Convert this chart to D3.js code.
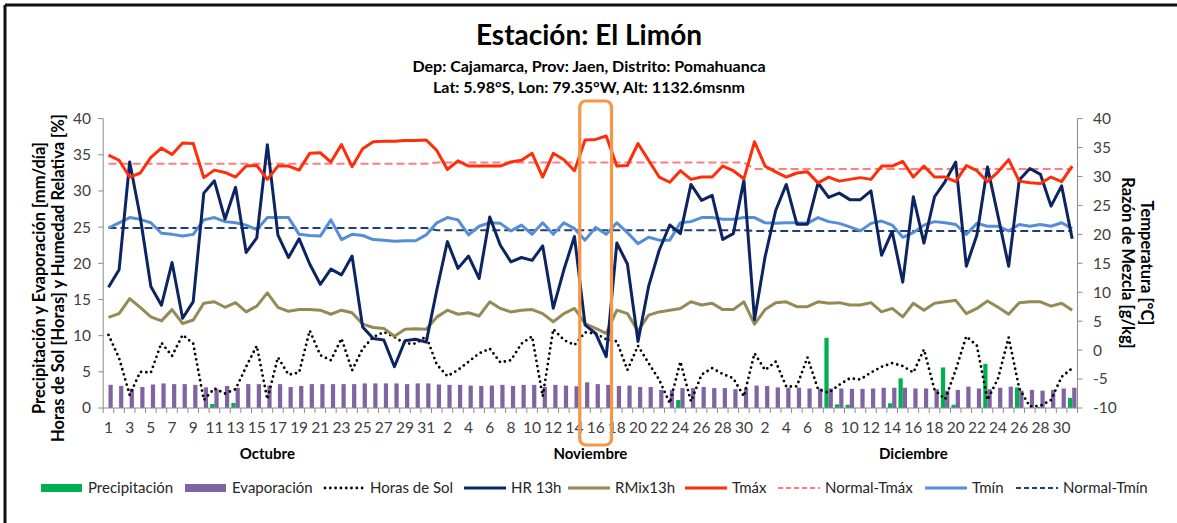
<!DOCTYPE html>
<html>
<head>
<meta charset="utf-8">
<script src="https://cdn.jsdelivr.net/npm/d3@7"></script>
<style>
  html, body { margin: 0; padding: 0; background: #fff; }
  svg { display: block; font-family: Lato, "Open Sans", sans-serif; }
</style>
</head>
<body>
<svg id="chart" width="1177" height="523"></svg>
<script>
// ---- Datos diarios: octubre a diciembre ----
const meses = ["Octubre", "Noviembre", "Diciembre"];
const diasPorMes = [31, 30, 31];
const dias = [
  1,2,3,4,5,6,7,8,9,10,11,12,13,14,15,16,17,18,19,20,21,22,23,24,25,26,27,28,29,30,31,
  1,2,3,4,5,6,7,8,9,10,11,12,13,14,15,16,17,18,19,20,21,22,23,24,25,26,27,28,29,30,
  1,2,3,4,5,6,7,8,9,10,11,12,13,14,15,16,17,18,19,20,21,22,23,24,25,26,27,28,29,30,31
];

// Precipitación [mm/día]
const precipitacion = [
  0,0,0,0,0,0,0,0,0,0,0.55,0,0.7,0,0,0,0,0,0,0,0,0,0,0,0,0,0,0,0,0,0,
  0,0,0,0,0,0,0,0,0,0,0,0,0,0,0,0,0,0,0,0,0,0,0,1.1,0,0,0,0,0,0,
  0,0,0,0,0,0,0,9.7,0.5,0.45,0,0,0,0.65,4.1,0,0,0,5.6,0.45,0,0,6.1,0,0,2.85,0,0.15,0,0,1.4
];
// Evaporación [mm/día]
const evaporacion = [
  3.2,3.05,2.65,2.9,3.25,3.4,3.3,3.3,3.2,2.85,2.6,3.05,2.8,3.3,3.3,3.1,3.3,2.9,3.05,3.3,3.3,3.3,3.3,3.3,3.4,3.4,3.4,3.4,3.3,3.4,3.4,
  3.25,3.2,3.2,3.1,3.05,3.1,3.2,3.05,3.2,3.2,2.9,3.2,3.1,3.0,3.55,3.3,3.2,3.05,3.1,2.9,2.9,2.5,2.5,2.75,2.75,2.9,2.75,2.75,2.6,2.75,
  3.1,3.05,2.85,2.8,2.8,2.7,2.7,2.7,2.7,2.65,2.65,2.7,2.8,2.8,2.8,2.7,2.7,2.6,2.4,2.5,2.95,2.7,2.6,2.8,2.95,2.4,2.5,2.4,2.5,2.7,2.8
];
// Horas de sol [horas]
const horasSol = [
  10.1,6.9,1.8,5.0,4.9,9.0,7.2,10.1,8.9,1.1,2.7,2.0,2.6,5.7,8.6,1.2,7.0,4.6,4.9,10.7,7.3,6.6,9.6,5.2,8.2,9.8,10.5,9.8,8.9,8.9,9.9,
  6.0,4.4,5.25,6.4,7.55,8.2,6.3,6.6,8.9,9.9,1.6,10.9,9.4,8.7,10.45,10.3,9.5,9.2,5.25,8.6,6.2,3.9,0.65,6.4,0.9,4.6,5.5,4.7,4.1,1.6,
  7.55,5.25,6.4,2.95,3.0,7.0,2.6,2.1,3.2,4.1,3.95,4.9,5.7,6.2,5.8,4.9,8.1,2.5,1.2,5.25,9.9,8.6,1.1,4.1,9.75,2.7,0.2,0.3,1.1,4.3,5.5
];
// Humedad relativa a las 13h [%]
const hr13 = [
  16.7,19.1,34.0,26.4,16.8,14.2,20.1,12.4,14.7,29.7,31.4,26.1,30.5,21.5,23.5,36.4,23.9,20.8,23.4,19.9,17.1,19.2,18.4,21.0,11.2,9.6,9.4,5.7,9.3,9.5,9.1,
  16.3,23.0,19.3,21.0,17.9,26.4,22.5,20.2,20.8,20.4,22.4,13.8,19.1,23.7,11.5,10.3,7.1,22.8,19.9,9.2,16.8,21.8,25.3,24.1,30.9,28.7,29.4,23.3,24.1,31.5,
  12.2,20.9,27.3,30.9,25.4,25.4,31.1,29.1,29.7,28.8,28.8,30.0,21.1,24.4,17.4,29.2,22.8,29.2,31.3,34.0,19.6,23.9,33.3,26.5,19.6,31.5,33.1,32.3,27.9,30.7,23.4
];
// Razón de mezcla a las 13h [g/kg]
const rmix13 = [
  5.65,6.3,8.9,7.4,5.75,5.05,7.0,4.6,5.2,8.1,8.35,7.4,8.2,6.6,7.6,9.9,7.4,6.7,7.0,7.0,6.9,6.2,6.9,6.45,4.5,3.9,3.75,2.4,3.6,3.7,3.6,
  5.7,6.9,6.2,6.45,5.9,8.35,7.2,6.6,6.9,7.0,6.3,4.9,6.3,7.2,4.6,3.75,2.9,6.9,6.3,3.3,6.05,6.6,6.9,7.2,8.35,7.8,8.1,7.0,7.0,8.35,
  4.5,7.0,8.2,8.35,7.5,7.5,8.35,8.1,8.2,7.8,7.8,8.2,6.6,7.2,5.75,8.1,6.9,8.1,8.35,8.6,6.3,7.2,8.5,7.4,6.2,8.2,8.35,8.35,7.6,8.1,6.9
];
// Temperatura máxima [°C]
const tmax = [
  33.7,32.8,29.9,30.6,33.3,34.9,33.8,35.8,35.7,29.8,31.1,30.7,29.9,31.8,31.9,29.5,31.8,31.8,31.1,34.0,34.1,32.5,35.5,31.7,34.8,36.0,36.1,36.1,36.2,36.2,36.3,
  34.5,31.2,32.7,31.8,31.8,31.8,31.8,32.5,32.8,34.0,29.9,34.0,32.9,31.0,36.3,36.4,37.0,31.8,31.9,35.7,32.8,29.9,29.0,31.0,29.5,29.9,29.9,31.8,31.0,29.6,
  36.0,31.8,30.8,29.9,30.6,30.8,28.9,29.9,29.2,29.5,29.8,29.5,31.8,31.8,32.6,29.9,31.8,29.9,29.9,29.1,31.9,31.0,29.1,30.8,32.9,29.2,28.9,28.8,29.9,29.1,31.8
];
// Temperatura mínima [°C]
const tmin = [
  21.1,22.0,22.9,22.6,22.0,20.2,20.0,19.7,20.0,22.5,22.9,22.2,22.0,21.6,20.8,22.9,22.9,22.9,20.0,19.8,19.7,22.5,19.1,20.0,19.8,19.1,19.0,18.8,18.9,18.9,19.9,
  22.0,22.9,22.5,19.9,21.4,22.0,21.9,20.6,21.6,20.0,22.0,20.0,22.0,21.0,19.0,21.2,20.0,22.0,20.3,18.4,19.5,19.0,19.0,22.0,22.2,22.9,22.9,22.6,22.6,22.9,
  22.9,22.0,21.9,22.0,22.0,21.9,22.9,22.2,21.9,21.3,20.6,21.9,22.3,21.6,19.5,20.3,21.6,22.2,22.0,21.7,20.0,21.9,21.4,21.4,20.6,21.7,21.4,21.7,21.4,22.0,21.0
];
// Normales mensuales [°C]
const normalTmax = [32.2, 32.4, 31.3];
const normalTmin = [21.1, 20.7, 20.6];

// Ejes
const ticksIzq = [0, 5, 10, 15, 20, 25, 30, 35, 40];
const ticksDer = [-10, -5, 0, 5, 10, 15, 20, 25, 30, 35, 40];

// Días resaltados (índices 15–17 de noviembre)
const resaltado = [45, 47];

// ---- Geometría ----
const svg = d3.select("#chart");
const W = 1177, H = 523;
const plot = { left: 103.2, right: 1077.5, top: 118.6, bottom: 408 };

const n = dias.length;
const idx = d3.range(n);
const mesDeDia = [];
diasPorMes.forEach((c, m) => { for (let k = 0; k < c; k++) mesDeDia.push(m); });

const x = d3.scaleBand().domain(idx).range([plot.left, plot.right]).paddingInner(0).paddingOuter(0);
const bw = x.bandwidth();
const cx = i => x(i) + bw / 2;
const yL = d3.scaleLinear().domain([0, 40]).range([plot.bottom, plot.top]);
const yR = d3.scaleLinear().domain([-10, 40]).range([plot.bottom, plot.top]);

const axisColor = "#8c8c8c";
const tickText = "#404040";

// Marco exterior
svg.append("rect").attr("x", 0).attr("y", 0).attr("width", W).attr("height", H).attr("fill", "#fff");
svg.append("line").attr("x1", 5).attr("x2", W).attr("y1", 5).attr("y2", 5)
  .attr("stroke", "#111").attr("stroke-width", 3);
svg.append("line").attr("x1", 5).attr("x2", 5).attr("y1", 5).attr("y2", H)
  .attr("stroke", "#111").attr("stroke-width", 3);

// Títulos
svg.append("text").attr("x", 589).attr("y", 45).attr("text-anchor", "middle")
  .attr("font-size", 28).attr("font-weight", 700).attr("fill", "#000").text("Estación: El Limón");
svg.append("text").attr("x", 589).attr("y", 72).attr("text-anchor", "middle")
  .attr("font-size", 16).attr("font-weight", 700).attr("fill", "#000")
  .text("Dep: Cajamarca, Prov: Jaen, Distrito: Pomahuanca");
svg.append("text").attr("x", 589).attr("y", 93).attr("text-anchor", "middle")
  .attr("font-size", 16).attr("font-weight", 700).attr("fill", "#000")
  .text("Lat: 5.98°S, Lon: 79.35°W, Alt: 1132.6msnm");

// ---- Barras ----
const barW = bw * 0.4;
svg.append("g").selectAll("rect").data(idx).join("rect")
  .attr("x", i => cx(i) - barW)
  .attr("width", barW)
  .attr("y", i => yL(precipitacion[i]))
  .attr("height", i => yL(0) - yL(precipitacion[i]))
  .attr("fill", "#00b050");
svg.append("g").selectAll("rect").data(idx).join("rect")
  .attr("x", i => cx(i))
  .attr("width", barW)
  .attr("y", i => yL(evaporacion[i]))
  .attr("height", i => yL(0) - yL(evaporacion[i]))
  .attr("fill", "#8064a2");

// ---- Líneas ----
function serie(vals, scale, color, width, dash, cap) {
  const line = d3.line().x(i => cx(i)).y(i => scale(vals[i]));
  svg.append("path").datum(idx).attr("d", line)
    .attr("fill", "none").attr("stroke", color).attr("stroke-width", width)
    .attr("stroke-linejoin", "round")
    .attr("stroke-linecap", cap || "butt")
    .attr("stroke-dasharray", dash || null);
}
const nTmax = idx.map(i => normalTmax[mesDeDia[i]]);
const nTmin = idx.map(i => normalTmin[mesDeDia[i]]);

serie(horasSol, yL, "#000", 2.8, "0,5.3", "round");
serie(rmix13, yR, "#948a54", 3);
serie(nTmax, yR, "#ff7c80", 2, "8,4");
serie(nTmin, yR, "#1f3d7a", 2, "8,4");
serie(tmin, yR, "#558ed5", 3);
serie(hr13, yL, "#0c2461", 3);
serie(tmax, yR, "#ff2d0a", 3);

// ---- Ejes ----
const gx = svg.append("g");
gx.append("line").attr("x1", plot.left).attr("x2", plot.right)
  .attr("y1", plot.bottom).attr("y2", plot.bottom).attr("stroke", axisColor);
gx.selectAll("line.tk").data(d3.range(n + 1)).join("line").attr("class", "tk")
  .attr("x1", i => plot.left + i * bw).attr("x2", i => plot.left + i * bw)
  .attr("y1", plot.bottom).attr("y2", plot.bottom + 5).attr("stroke", axisColor);
gx.selectAll("text").data(idx.filter(i => i % 2 === 0)).join("text")
  .attr("x", i => cx(i)).attr("y", 433).attr("text-anchor", "middle")
  .attr("font-size", 15.5).attr("fill", tickText).text(i => dias[i]);

// Etiquetas de mes
let acum = 0;
meses.forEach((m, k) => {
  const a = acum, b = acum + diasPorMes[k] - 1;
  acum += diasPorMes[k];
  svg.append("text").attr("x", (cx(a) + cx(b)) / 2).attr("y", 459)
    .attr("text-anchor", "middle").attr("font-size", 15).attr("font-weight", 700)
    .attr("fill", "#000").text(m);
});

// Eje izquierdo
const gl = svg.append("g");
gl.append("line").attr("x1", plot.left).attr("x2", plot.left)
  .attr("y1", plot.top).attr("y2", plot.bottom).attr("stroke", axisColor);
gl.selectAll("line.tk").data(ticksIzq).join("line").attr("class", "tk")
  .attr("x1", plot.left - 5).attr("x2", plot.left)
  .attr("y1", d => yL(d)).attr("y2", d => yL(d)).attr("stroke", axisColor);
gl.selectAll("text").data(ticksIzq).join("text")
  .attr("x", 91).attr("y", d => yL(d)).attr("dy", "0.35em").attr("text-anchor", "end")
  .attr("font-size", 15.5).attr("fill", tickText).text(d => d);

// Eje derecho
const gr = svg.append("g");
gr.append("line").attr("x1", plot.right).attr("x2", plot.right)
  .attr("y1", plot.top).attr("y2", plot.bottom).attr("stroke", axisColor);
gr.selectAll("line.tk").data(ticksDer).join("line").attr("class", "tk")
  .attr("x1", plot.right).attr("x2", plot.right + 5)
  .attr("y1", d => yR(d)).attr("y2", d => yR(d)).attr("stroke", axisColor);
gr.selectAll("text").data(ticksDer).join("text")
  .attr("x", 1093).attr("y", d => yR(d)).attr("dy", "0.35em").attr("text-anchor", "start")
  .attr("font-size", 15.5).attr("fill", tickText).text(d => d);

// Títulos de ejes
const tl = svg.append("text").attr("transform", "translate(0,278) rotate(-90)")
  .attr("text-anchor", "middle").attr("font-size", 16.5).attr("font-weight", 700).attr("fill", "#000");
tl.append("tspan").attr("x", 0).attr("y", 45).text("Precipitación y Evaporación  [mm/día]");
tl.append("tspan").attr("x", 0).attr("y", 64).text("Horas de Sol [Horas] y Humedad Relativa [%]");

const tr = svg.append("text").attr("transform", "translate(0,263) rotate(90)")
  .attr("text-anchor", "middle").attr("font-size", 16.5).attr("font-weight", 700).attr("fill", "#000");
tr.append("tspan").attr("x", 0).attr("y", -1141).text("Temperatura [°C]");
tr.append("tspan").attr("x", 0).attr("y", -1122).text("Razón de Mezcla [g/kg]");

// Recuadro de días destacados
svg.append("rect")
  .attr("x", x(resaltado[0]))
  .attr("width", x(resaltado[1]) + bw - x(resaltado[0]))
  .attr("y", 101).attr("height", 344).attr("rx", 6)
  .attr("fill", "none").attr("stroke", "#f79646").attr("stroke-width", 3.2);

// ---- Leyenda ----
const ly = 488;
const leyenda = [
  { t: "Precipitación", tipo: "rect", c: "#00b050", x0: 41 },
  { t: "Evaporación", tipo: "rect", c: "#8064a2", x0: 185 },
  { t: "Horas de Sol", tipo: "line", c: "#000", x0: 323, w: 2.8, dash: "0,5.3", cap: "round" },
  { t: "HR 13h", tipo: "line", c: "#0c2461", x0: 464, w: 3 },
  { t: "RMix13h", tipo: "line", c: "#948a54", x0: 568, w: 3 },
  { t: "Tmáx", tipo: "line", c: "#ff2d0a", x0: 685, w: 3 },
  { t: "Normal-Tmáx", tipo: "line", c: "#ff7c80", x0: 778, w: 2, dash: "5,3" },
  { t: "Tmín", tipo: "line", c: "#558ed5", x0: 925, w: 3 },
  { t: "Normal-Tmín", tipo: "line", c: "#1f3d7a", x0: 1016, w: 2, dash: "5,3" }
];
const gLeg = svg.append("g");
leyenda.forEach(d => {
  if (d.tipo === "rect") {
    gLeg.append("rect").attr("x", d.x0).attr("y", ly - 4).attr("width", 41).attr("height", 8).attr("fill", d.c);
  } else {
    gLeg.append("line").attr("x1", d.x0 + (d.cap ? 2 : 0)).attr("x2", d.x0 + 42).attr("y1", ly).attr("y2", ly)
      .attr("stroke", d.c).attr("stroke-width", d.w)
      .attr("stroke-dasharray", d.dash || null).attr("stroke-linecap", d.cap || "butt");
  }
  gLeg.append("text").attr("x", d.x0 + 47).attr("y", ly).attr("dy", "0.35em")
    .attr("font-size", 15).attr("fill", "#262626").text(d.t);
});
</script>
</body>
</html>
